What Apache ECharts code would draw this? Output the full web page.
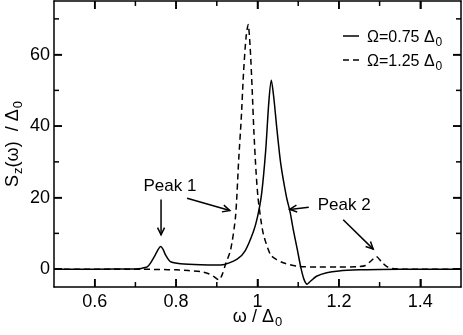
<!DOCTYPE html>
<html><head><meta charset="utf-8">
<script src="https://cdn.jsdelivr.net/npm/echarts@6/dist/echarts.min.js"></script>
<style>html,body{margin:0;padding:0;background:#fff}#c{width:463px;height:335px}</style>
</head><body><div id="c"></div>
<script>
// ---- data ----
const omegaA = [0.50, 0.60, 0.70, 0.715, 0.729, 0.737, 0.749, 0.756, 0.762, 0.768, 0.774, 0.786, 0.811, 0.86, 0.91, 0.95, 0.97, 0.99, 1.00, 1.01, 1.02, 1.028, 1.034, 1.040, 1.048, 1.057, 1.071, 1.080, 1.088, 1.098, 1.106, 1.114, 1.122, 1.130, 1.145, 1.17, 1.20, 1.25, 1.30, 1.40, 1.50];
const sA =     [0,    0,    0.05, 0.2,   0.6,   1.7,   4.0,   5.5,   6.3,   5.5,   4.0,   2.1,   1.5,  1.2,  1.15, 2.8,  5.2,  10.5, 14.6, 21,   33,   47,    52.8,  48,    38.8,  29.6,  20.3,  16,    11,    5.4,   0.7,   -2.8,  -4.2,  -3.4,  -2.0,  -1.0, -0.5, -0.2, -0.1, 0, 0];
const omegaB = [0.50, 0.70, 0.76, 0.80, 0.83, 0.86, 0.88, 0.893, 0.905, 0.913, 0.921, 0.934, 0.946, 0.954, 0.960, 0.966, 0.972, 0.977, 0.982, 0.987, 0.991, 0.996, 1.001, 1.008, 1.015, 1.032, 1.045, 1.065, 1.10, 1.15, 1.20, 1.25, 1.265, 1.278, 1.292, 1.305, 1.318, 1.33, 1.36, 1.50];
const sB =     [0,    0,    -0.1, -0.2, -0.4, -0.7, -1.3, -2.1,  -3.0,  -1.6,  1.2,   5.4,   14.7,  31,    42,    55.6,  65,    68.4,  62,    50,    38.8,  28,    20.3,  14,    9.5,   4.0,   2.8,   1.7,   0.8,  0.6,  0.6,  0.7,  1.0,   2.2,   3.5,   2.0,   0.7,   0.2,  0,    0];
const seriesNames = ['Ω=0.75 Δ0', 'Ω=1.25 Δ0'];
const legendMain = ['Ω=0.75 Δ', 'Ω=1.25 Δ'];
const xTickMajor = [0.6, 0.8, 1.0, 1.2, 1.4];
const xTickMinor = [0.7, 0.9, 1.1, 1.3];
const yTickMajor = [0, 20, 40, 60];
const yTickMinor = [10, 30, 50, 70];
// annotations: [label, textX, textY] and arrows [tailX, tailY, tipX, tipY] in data units
const peakLabels = [['Peak 1', 0.785, 23.2], ['Peak 2', 1.213, 17.9]];
const peakArrows = [[0.763, 19.5, 0.763, 9.6], [0.827, 19.8, 0.932, 16.4], [1.126, 17.3, 1.079, 16.7], [1.2106, 13.8, 1.2843, 5.6]];

(function () {
const F = '"Liberation Sans", Arial, Helvetica, sans-serif';
const XMIN = 0.5, XMAX = 1.5, YMIN = -5, YMAX = 75;
const chart = echarts.init(document.getElementById('c'), null, {renderer: 'canvas'});
const dashA = 'solid', dashB = [6, 4];

function ax(extra) {
  return Object.assign({
    type: 'value',
    axisLine: {show: true, onZero: false, lineStyle: {color: '#000', width: 1.5}},
    splitLine: {show: false}
  }, extra);
}
const tickStyle = {show: true, inside: true, length: 8, lineStyle: {color: '#000', width: 1.5}};

chart.setOption({
  animation: false,
  grid: {left: 54, right: 2, top: 1, bottom: 48, outerBoundsMode: 'none', containLabel: false},
  xAxis: [
    ax({min: XMIN, max: XMAX, position: 'bottom', axisTick: Object.assign({customValues: xTickMajor}, tickStyle),
        axisLabel: {show: true, customValues: xTickMajor, margin: 6, color: '#000', fontSize: 18, fontFamily: F}}),
    ax({min: XMIN, max: XMAX, position: 'top', axisTick: Object.assign({customValues: xTickMajor}, tickStyle),
        axisLabel: {show: false, customValues: xTickMajor}})
  ],
  yAxis: [
    ax({min: YMIN, max: YMAX, position: 'left', axisTick: Object.assign({customValues: yTickMajor}, tickStyle),
        axisLabel: {show: true, customValues: yTickMajor, margin: 4, color: '#000', fontSize: 18, fontFamily: F}}),
    ax({min: YMIN, max: YMAX, position: 'right', axisTick: Object.assign({customValues: yTickMajor}, tickStyle),
        axisLabel: {show: false, customValues: yTickMajor}})
  ],
  series: [
    {type: 'line', name: seriesNames[0], xAxisIndex: 0, yAxisIndex: 0, symbol: 'none', smooth: 0.25,
     data: omegaA.map((x, i) => [x, sA[i]]),
     lineStyle: {color: '#000', width: 1.5, type: dashA}, itemStyle: {color: '#000'}},
    {type: 'line', name: seriesNames[1], xAxisIndex: 0, yAxisIndex: 0, symbol: 'none', smooth: 0.25,
     data: omegaB.map((x, i) => [x, sB[i]]),
     lineStyle: {color: '#000', width: 1.5, type: dashB}, itemStyle: {color: '#000'}}
  ]
});

const px = (x, y) => chart.convertToPixel({xAxisIndex: 0, yAxisIndex: 0}, [x, y]);
const graphics = [];
// annotations
peakLabels.forEach(function (p, k) {
  const q = px(p[1], p[2]);
  graphics.push({type: 'text', id: 'pl' + k, x: q[0], y: q[1], style: {text: p[0], font: '17px ' + F, fill: '#000', align: 'center', verticalAlign: 'middle'}});
});
peakArrows.forEach(function (a, k) {
  const t = px(a[0], a[1]), h = px(a[2], a[3]);
  const dx = h[0] - t[0], dy = h[1] - t[1], L = Math.hypot(dx, dy);
  const ux = dx / L, uy = dy / L, hl = 8, ang = 0.45;
  const c = Math.cos(ang), s = Math.sin(ang);
  const b1 = [h[0] - hl * (ux * c - uy * s), h[1] - hl * (uy * c + ux * s)];
  const b2 = [h[0] - hl * (ux * c + uy * s), h[1] - hl * (uy * c - ux * s)];
  graphics.push({type: 'polyline', id: 'as' + k, shape: {points: [t, h]}, style: {stroke: '#000', lineWidth: 1.5, fill: null}});
  graphics.push({type: 'polyline', id: 'ah' + k, shape: {points: [b1, h, b2]}, style: {stroke: '#000', lineWidth: 1.5, fill: null}});
});
// legend
const legRich = {
  m: {fontSize: 16, fontFamily: F, color: '#000'},
  s: {fontSize: 12, fontFamily: F, color: '#000', padding: [9, 0, 0, 1]}
};
const legY = [36, 60];
[dashA, dashB].forEach(function (d, i) {
  graphics.push({type: 'line', id: 'll' + i, shape: {x1: 343, y1: legY[i], x2: 359, y2: legY[i]},
    style: {stroke: '#000', lineWidth: 1.5, lineDash: d === 'solid' ? null : d}});
  graphics.push({type: 'text', id: 'lt' + i, x: 367, y: legY[i] + 2, style: {text: '{m|' + legendMain[i] + '}{s|0}', rich: legRich, align: 'left', verticalAlign: 'middle'}});
});
// axis titles
const titleRich = {
  m: {fontSize: 18, fontFamily: F, color: '#000'},
  s: {fontSize: 13, fontFamily: F, color: '#000', padding: [11, 0, 0, 1]}
};
const xc = px(1.0, 0)[0];
graphics.push({type: 'text', id: 'xt', x: xc, y: 317, style: {text: '{m|ω / Δ}{s|0}', rich: titleRich, align: 'center', verticalAlign: 'middle'}});
const yc = px(XMIN, 35)[1];
graphics.push({type: 'text', id: 'yt', x: 13, y: yc, rotation: Math.PI / 2,
  style: {text: '{m|S}{s|z}{m|(ω)  / Δ}{s|0}', rich: titleRich, align: 'center', verticalAlign: 'middle'}});
// inward ticks on all four sides as filled bars, placed through the axis scales
const lo = px(XMIN, YMIN), hi = px(XMAX, YMAX);
const yBot = lo[1], yTop = hi[1], xLeft = lo[0], xRight = hi[0];
let tickId = 0;
function bar(x, y, w, h) {
  graphics.push({type: 'rect', id: 'tk' + (tickId++), z: 100, shape: {x: x, y: y, width: w, height: h}, style: {fill: '#000'}});
}
[[xTickMajor, 8], [xTickMinor, 5]].forEach(function (grp) {
  grp[0].forEach(function (v) {
    const X = px(v, 0)[0];
    bar(X - 0.75, yBot - grp[1], 1.5, grp[1]);
    bar(X - 0.75, yTop, 1.5, grp[1]);
  });
});
[[yTickMajor, 8], [yTickMinor, 5]].forEach(function (grp) {
  grp[0].forEach(function (v) {
    const Y = px(XMIN, v)[1];
    bar(xLeft, Y - 0.75, grp[1], 1.5);
    bar(xRight - grp[1], Y - 0.75, grp[1], 1.5);
  });
});
chart.setOption({graphic: {elements: graphics}});
})();
</script>
</body></html>
